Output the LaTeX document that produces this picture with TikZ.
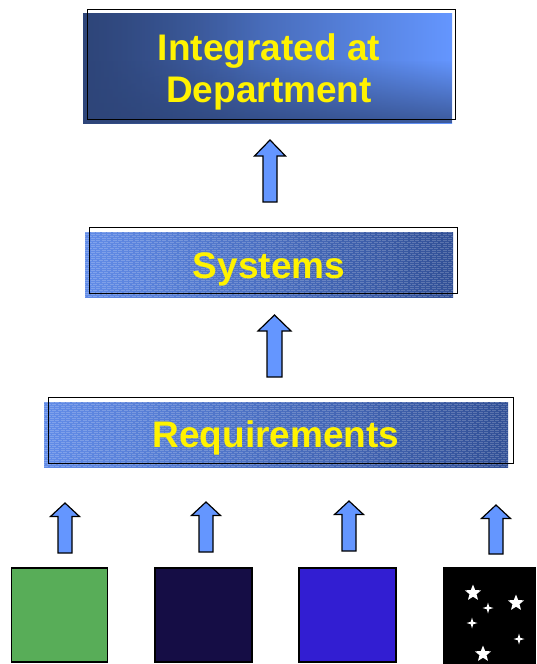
\documentclass[tikz,border=0pt]{standalone}
\usepackage{fontspec}
\setmainfont{Liberation Sans}
\usetikzlibrary{shapes.geometric,fadings}
\definecolor{arrowblue}{RGB}{100,150,255}
\definecolor{darknavy}{RGB}{46,69,121}
\definecolor{lightblue}{RGB}{100,150,255}
\definecolor{midlight}{RGB}{98,140,232}
\definecolor{middark}{RGB}{50,80,150}
\definecolor{sqgreen}{RGB}{88,173,88}
\definecolor{sqnavy}{RGB}{21,13,69}
\definecolor{sqblue}{RGB}{50,30,210}
\tikzset{
  boxtext/.style={text=yellow, font=\fontsize{37}{42}\selectfont\bfseries, align=center},
  outline/.style={draw=black, line width=1pt},
  blockarrow/.style={draw=black, line width=1.2pt, fill=arrowblue, line join=miter},
  square/.style={draw=black, line width=1.2pt},
  bigstar/.style={star, star points=5, star point ratio=2.3, minimum size=17pt, inner sep=0pt, fill=white},
  sparkle/.style={star, star points=4, star point ratio=3.2, minimum size=11pt, inner sep=0pt, fill=white},
}
\newcommand{\uparrowblock}[6]{% x, tip, base, bottom, head hw, shaft hw
  \draw[blockarrow] (#1,#2) -- (#1+#5,#3) -- (#1+#6,#3) -- (#1+#6,#4) -- (#1-#6,#4) -- (#1-#6,#3) -- (#1-#5,#3) -- cycle;}
\newcommand{\texturelines}[4]{% x1,y1,x2,y2
  \begin{scope}
    \clip (#1,#2) rectangle (#3,#4);
    \foreach \yy in {#2,...,#4} {
      \ifodd\yy\else
      \pgfmathsetmacro{\ph}{mod(\yy,6)*1.3}
      \draw[white, opacity=0.2, line width=0.8pt, dash pattern=on 4pt off 1.5pt, dash phase=\ph pt] (#1,\yy) -- (#3,\yy);
      \fi
    }
  \end{scope}}
\begin{document}
\begin{tikzpicture}[x=1pt,y=-1pt]
\useasboundingbox (0,0) rectangle (536,664);
\fill[white] (0,0) rectangle (536,664);

% Top box
\shade[left color=darknavy, right color=lightblue] (83,13) rectangle (452,123);
\fill[darknavy, path fading=north, fill opacity=0.75] (83,60) rectangle (452,123);
\fill[darknavy, path fading=east, fill opacity=0.5] (83,13) rectangle (260,123);
\draw[outline] (87,9) rectangle (455,119);
\node[boxtext] (dept) at (269,72) {Integrated at\\Department};

% Systems box
\shade[shading=axis, shading angle=60, left color=midlight, right color=middark] (85,232) rectangle (453,297);
\texturelines{85}{232}{453}{297}
\draw[outline] (89,227) rectangle (457,293);
\node[boxtext] (sys) at (269,269) {Systems};

% Requirements box
\shade[shading=axis, shading angle=70, left color=midlight, right color=middark] (44,402) rectangle (508,467);
\texturelines{44}{402}{508}{467}
\draw[outline] (48,397) rectangle (513,463);
\node[boxtext] (req) at (276,438) {Requirements};

% Arrows
\uparrowblock{270}{140}{156}{202}{15.5}{7}
\uparrowblock{274.5}{315}{331}{377}{16.5}{7.5}
\uparrowblock{65}{503}{516.5}{553}{14.5}{7}
\uparrowblock{206}{502}{515.5}{552}{14.5}{7}
\uparrowblock{349}{501}{514.5}{551}{14.5}{7}
\uparrowblock{496}{505}{518.5}{554}{14.5}{7}

% Squares
\draw[square, fill=sqgreen] (11.5,568) rectangle (107.5,662);
\draw[square, fill=sqnavy] (155,568) rectangle (252,662);
\draw[square, fill=sqblue] (299,568) rectangle (396,662);
\fill[black] (443,567) rectangle (536,664);
\node[bigstar] (s1) at (473,593) {};
\node[bigstar] (s2) at (516,603) {};
\node[bigstar] (s3) at (483,654) {};
\node[sparkle] (p1) at (488,608) {};
\node[sparkle] (p2) at (472,623) {};
\node[sparkle] (p3) at (519,639) {};
\end{tikzpicture}
\end{document}
